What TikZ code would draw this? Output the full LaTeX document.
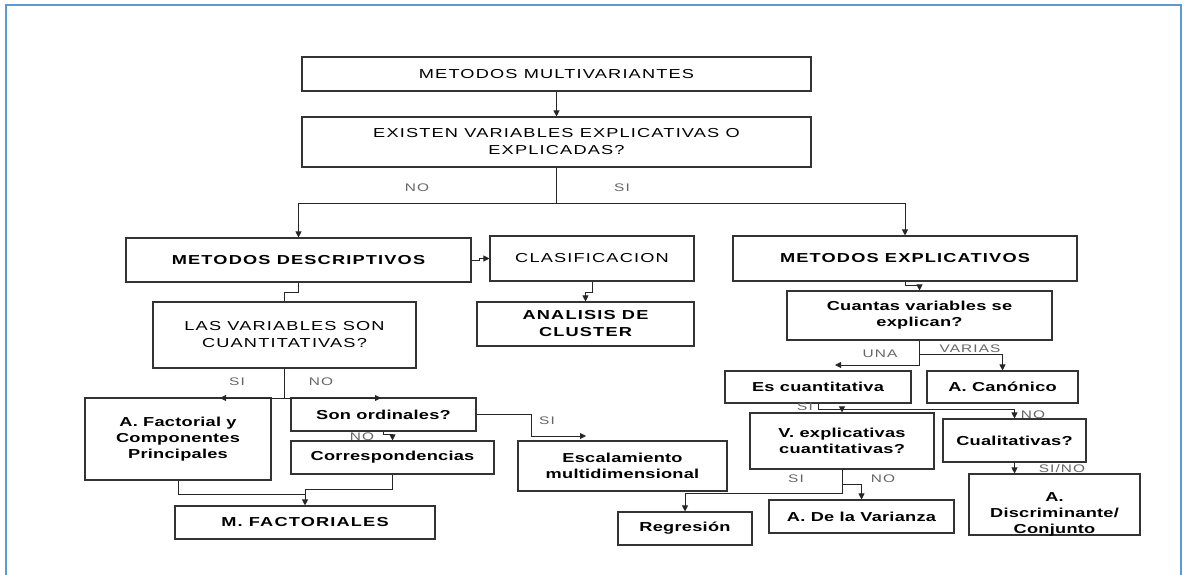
\documentclass[tikz,border=0pt]{standalone}
\usepackage{fontspec}
\setmainfont{Liberation Sans}[FakeStretch=1.4]
\usepackage{xcolor}
\usetikzlibrary{arrows.meta,positioning}

\definecolor{frameblue}{RGB}{91,155,213}

\begin{document}
\begin{tikzpicture}[x=1pt, y=-1pt,
    block/.style={rectangle, draw=black!80, line width=1.1pt, align=center, inner sep=0pt, font=\fontsize{13}{16}\selectfont\bfseries\addfontfeatures{LetterSpace=2}},
    caps/.style={block, font=\fontsize{13}{17}\selectfont\addfontfeatures{LetterSpace=9}},
    boldcaps/.style={block, font=\fontsize{13}{17}\selectfont\bfseries\addfontfeatures{LetterSpace=9}},
    tag/.style={inner sep=0pt, text=black!60, font=\fontsize{11}{12}\selectfont\addfontfeatures{LetterSpace=10}},
    line/.style={draw=black!85, line width=0.9pt},
    arrow/.style={line, -{Stealth[length=6pt,width=6pt,inset=0pt]}}]

    \useasboundingbox (0,0) rectangle (1188,575);
    \draw[frameblue, line width=1.4pt] (6,5) rectangle (1181,600);

    \node[caps, minimum width=509pt, minimum height=34pt] (multi) at (556.5,74) {METODOS MULTIVARIANTES};
    \node[caps, minimum width=509pt, minimum height=50pt] (existen) at (556.5,142) {EXISTEN VARIABLES EXPLICATIVAS O\\EXPLICADAS?};
    \node[boldcaps, minimum width=345pt, minimum height=44pt] (descrip) at (298.5,260) {METODOS DESCRIPTIVOS};
    \node[caps, minimum width=204pt, minimum height=45pt] (clasif) at (592,258.5) {CLASIFICACION};
    \node[boldcaps, minimum width=344pt, minimum height=45pt] (explic) at (905,258.5) {METODOS EXPLICATIVOS};
    \node[boldcaps, minimum width=217pt, minimum height=44pt] (cluster) at (585.5,324) {ANALISIS DE\\CLUSTER};
    \node[caps, minimum width=263pt, minimum height=66pt] (cuanti) at (284.5,335) {LAS VARIABLES SON\\CUANTITATIVAS?};
    \node[block, minimum width=265pt, minimum height=49pt] (cuantas) at (919.5,315.5) {Cuantas variables se\\explican?};
    \node[block, minimum width=186pt, minimum height=32pt] (escuant) at (818,387) {Es cuantitativa};
    \node[block, minimum width=151pt, minimum height=32pt] (canon) at (1002.5,387) {A. Canónico};
    \node[block, minimum width=186pt, minimum height=82pt] (factorial) at (178,439) {A. Factorial y\\Componentes\\Principales};
    \node[block, minimum width=185pt, minimum height=33pt] (ordinal) at (383.5,414.5) {Son ordinales?};
    \node[block, minimum width=203pt, minimum height=33pt] (corresp) at (392.5,457.5) {Correspondencias};
    \node[block, minimum width=209pt, minimum height=50pt] (escala) at (622.5,466) {Escalamiento\\multidimensional};
    \node[boldcaps, minimum width=260pt, minimum height=33pt] (mfact) at (305,522.5) {M. FACTORIALES};
    \node[block, minimum width=184pt, minimum height=56pt] (vexpl) at (842,441) {V. explicativas\\cuantitativas?};
    \node[block, minimum width=143pt, minimum height=43pt] (cualit) at (1014.5,440.5) {Cualitativas?};
    \node[block, minimum width=171pt, minimum height=61pt] (discrim) at (1054.5,504.5) {\raisebox{-13pt}[20pt][20pt]{\begin{tabular}{@{}c@{}}A.\\Discriminante/\\Conjunto\end{tabular}}};
    \node[block, minimum width=134pt, minimum height=33pt] (regres) at (685,528.5) {Regresión};
    \node[block, minimum width=185pt, minimum height=33pt] (varianza) at (861.5,516.5) {A. De la Varianza};

    % top split
    \draw[arrow] (multi) -- (existen);
    \coordinate (split) at (556.5,203);
    \draw[line] (existen) -- (split);
    \draw[arrow] (split) -| (descrip.north);
    \draw[arrow] (split) -| (explic.north);
    \node[tag] (tno1) at (417,188) {NO};
    \node[tag] (tsi1) at (622,188) {SI};

    % descriptive side
    \draw[arrow] (descrip.east) -- ++(8,0) |- (clasif.west);
    \draw[arrow] (clasif.south) -- ++(0,11) -| (cluster.north);
    \draw[line] (descrip.south) -- ++(0,10) -| (cuanti.north);
    \coordinate (lasfork) at (284.5,398);
    \coordinate (sitip) at (220,398);
    \coordinate (notip) at (381,398);
    \draw[line] (cuanti.south) -- (lasfork);
    \draw[arrow] (lasfork) -- (sitip);
    \draw[arrow] (lasfork) -- (notip);
    \node[tag] (tsi2) at (237,382) {SI};
    \node[tag] (tno2) at (321,382) {NO};
    \draw[arrow] (ordinal.south) -- ++(0,3) -| (corresp.north);
    \node[tag] (tno3) at (362,437) {NO};
    \coordinate (escaltip) at (586,436);
    \draw[arrow] (ordinal.east) -- ++(54.5,0) |- (escaltip);
    \node[tag] (tsi3) at (547,421) {SI};
    \coordinate (mfjoin) at (305,489);
    \draw[line] (factorial.south) -- ++(0,14) -| (mfjoin);
    \draw[arrow] (corresp.south) |- (mfjoin) -- (mfact.north);

    % explicative side
    \draw[arrow] (explic.south) -- ++(0,4) -| (cuantas.north);
    \coordinate (unatip) at (835,365);
    \draw[arrow] (cuantas.south) |- (unatip);
    \draw[arrow] (cuantas.south) -- ++(0,14) -| (canon.north);
    \node[tag] (tuna) at (880,354) {UNA};
    \node[tag] (tvar) at (970,349) {VARIAS};
    \draw[arrow] (escuant.south) -- ++(0,6) -| (vexpl.north);
    \draw[arrow] (escuant.south) -- ++(0,6) -| (cualit.north);
    \node[tag] (tsi4) at (805,407) {SI};
    \node[tag] (tno4) at (1033,415) {NO};
    \draw[arrow] (vexpl.south) -- ++(0,24) -| (regres.north);
    \draw[arrow] (vexpl.south) -- ++(0,15) -| (varianza.north);
    \node[tag] (tsi5) at (796,479) {SI};
    \node[tag] (tno5) at (883,479) {NO};
    \draw[arrow] (cualit.south) -- (cualit.south |- discrim.north);
    \node[tag] (tsino) at (1062,469) {SI/NO};
\end{tikzpicture}
\end{document}
